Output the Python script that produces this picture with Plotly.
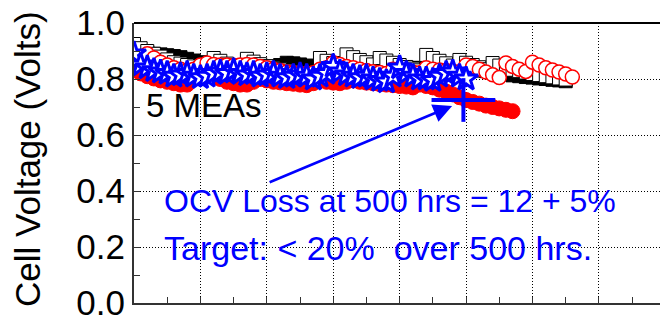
import plotly.graph_objects as go

# ---- durability data (hours vs. cell voltage) ----
hours_sq = list(range(0, 660, 10))
black_filled_sq = [0.91, 0.90, 0.895, 0.89, 0.888, 0.885, 0.882, 0.878, 0.872, 0.866,
                   0.86, 0.856, 0.852, 0.85, 0.848, 0.846, 0.844, 0.842, 0.84, 0.838,
                   0.836, 0.834, 0.85, 0.858, 0.856, 0.852, 0.848, 0.843, 0.84, 0.838,
                   0.836, 0.834, 0.832, 0.83, 0.828, 0.83, 0.835, 0.834, 0.832, 0.83,
                   0.828, 0.83, 0.84, 0.838, 0.836, 0.833, 0.83, 0.828, 0.826, 0.824,
                   0.822, 0.83, 0.832, 0.828, 0.824, 0.82, 0.816, 0.813, 0.81, 0.807,
                   0.805, 0.802, 0.80, 0.797, 0.795, 0.792]
open_sq = [0.925, 0.91, 0.90, 0.89, 0.88, 0.87, 0.86, 0.855, 0.85, 0.845,
           0.84, 0.835, 0.875, 0.865, 0.855, 0.848, 0.84, 0.872, 0.862, 0.853,
           0.846, 0.84, 0.835, 0.83, 0.826, 0.822, 0.818, 0.815, 0.875, 0.865,
           0.857, 0.85, 0.888, 0.878, 0.868, 0.86, 0.852, 0.875, 0.866, 0.858,
           0.85, 0.843, 0.837, 0.831, 0.886, 0.875, 0.865, 0.856, 0.848, 0.868,
           0.858, 0.85, 0.842, 0.835, 0.857, 0.848, 0.84, 0.833, 0.828, 0.823,
           0.818, 0.814, 0.81, 0.806, 0.802, 0.798]

hours_red = list(range(0, 580, 10))
red_filled = [0.835, 0.82, 0.81, 0.802, 0.795, 0.79, 0.785, 0.78, 0.78, 0.81,
              0.845, 0.835, 0.815, 0.80, 0.79, 0.785, 0.78, 0.78, 0.79, 0.80,
              0.795, 0.79, 0.788, 0.785, 0.783, 0.78, 0.778, 0.785, 0.795, 0.79,
              0.787, 0.785, 0.79, 0.795, 0.79, 0.787, 0.785, 0.782, 0.78, 0.778,
              0.775, 0.773, 0.77, 0.78, 0.775, 0.77, 0.762, 0.755, 0.745, 0.735,
              0.725, 0.718, 0.712, 0.705, 0.70, 0.695, 0.69, 0.685]

hours_open_red = list(range(0, 670, 10))
open_red = [0.87, 0.88, 0.89, 0.875, 0.86, 0.85, 0.84, 0.835, 0.83, 0.835,
            0.85, 0.857, 0.852, 0.85, 0.85, 0.848, 0.85, 0.852, 0.85, 0.845,
            0.84, 0.835, 0.83, 0.825, 0.822, 0.82, 0.82, 0.822, 0.835, 0.84,
            0.858, 0.852, 0.845, 0.84, 0.835, 0.83, 0.826, 0.823, 0.82, 0.835,
            0.83, 0.826, 0.824, 0.822, 0.84, 0.835, 0.832, 0.83, 0.828, 0.826,
            0.85, 0.845, 0.835, 0.825, 0.815, 0.805, 0.857, 0.845, 0.835, 0.827,
            0.86, 0.85, 0.84, 0.832, 0.825, 0.818, 0.807]

hours_star = list(range(0, 510, 10))
blue_star = [0.89, 0.85, 0.84, 0.83, 0.825, 0.82, 0.81, 0.815, 0.82, 0.81,
             0.805, 0.81, 0.82, 0.825, 0.82, 0.83, 0.82, 0.815, 0.82, 0.81,
             0.815, 0.82, 0.81, 0.805, 0.81, 0.815, 0.81, 0.80, 0.81, 0.82,
             0.845, 0.825, 0.815, 0.81, 0.805, 0.81, 0.80, 0.795, 0.79, 0.81,
             0.84, 0.82, 0.81, 0.80, 0.80, 0.795, 0.81, 0.82, 0.825, 0.81, 0.80]

# OCV loss marker at 500 hrs (centre and half-spans)
target_hours = [496]
target_volts = [0.725]
target_dx = [48]
target_dy = [0.078]

FONT = "Liberation Sans"
BLUE = "#0000ff"
RED = "#ff0000"

fig = go.Figure()

fig.add_trace(go.Scatter(
    x=hours_sq, y=black_filled_sq, mode="markers",
    marker=dict(symbol="square", size=13, color="black",
                line=dict(color="black", width=1))))
fig.add_trace(go.Scatter(
    x=hours_sq, y=open_sq, mode="markers",
    marker=dict(symbol="square", size=13, color="white",
                line=dict(color="black", width=1))))
fig.add_trace(go.Scatter(
    x=hours_red, y=red_filled, mode="markers",
    marker=dict(symbol="circle", size=15, color=RED,
                line=dict(color=RED, width=1))))
fig.add_trace(go.Scatter(
    x=hours_open_red, y=open_red, mode="markers",
    marker=dict(symbol="circle", size=14, color="white",
                line=dict(color=RED, width=1.5))))
fig.add_trace(go.Scatter(
    x=hours_star, y=blue_star, mode="lines+markers",
    line=dict(color=BLUE, width=2),
    marker=dict(symbol="star", size=18, color="white",
                line=dict(color=BLUE, width=3))))
fig.add_trace(go.Scatter(
    x=target_hours, y=target_volts, mode="markers",
    marker=dict(size=1, color=BLUE),
    error_x=dict(type="data", array=target_dx, color=BLUE, thickness=4, width=0),
    error_y=dict(type="data", array=target_dy, color=BLUE, thickness=4, width=0)))

grid = dict(showgrid=True, gridcolor="black", gridwidth=1, griddash="1px,2px")

fig.update_xaxes(
    range=[0, 792], tick0=0, dtick=100, **grid,
    showline=True, linecolor="#333333", linewidth=2,
    ticks="inside", ticklen=6, tickwidth=1, tickcolor="#333333",
    minor=dict(dtick=50, ticks="inside", ticklen=6, tickcolor="#333333", showgrid=False),
    showticklabels=False, zeroline=False)
fig.update_yaxes(
    range=[0, 1], tick0=0, dtick=0.2, tickformat=".1f", **grid,
    showline=True, linecolor="#333333", linewidth=2,
    ticks="inside", ticklen=6, tickwidth=1, tickcolor="#333333",
    minor=dict(dtick=0.1, ticks="inside", ticklen=6, tickcolor="#333333", showgrid=False),
    ticklabeloverflow="allow",
    tickfont=dict(family=FONT, size=35, color="black"), zeroline=False)

fig.add_shape(type="line", xref="paper", yref="paper", x0=0, x1=1, y0=1, y1=1,
              line=dict(color="black", width=2))

fig.add_annotation(text="Cell Voltage (Volts)", xref="paper", yref="paper",
                   x=(27 - 134) / 526, y=(303 - 159) / 280, textangle=-90,
                   showarrow=False, xanchor="center", yanchor="middle",
                   font=dict(family=FONT, size=35, color="black"))
fig.add_annotation(text="5 MEAs", x=15, y=0.707, xanchor="left", yanchor="middle",
                   showarrow=False, font=dict(family=FONT, size=33, color="black"))
fig.add_annotation(text="OCV Loss at 500 hrs = 12 + 5%", x=42, y=0.366,
                   xanchor="left", yanchor="middle", showarrow=False,
                   font=dict(family=FONT, size=32, color=BLUE))
fig.add_annotation(text="Target: < 20%\u00a0 over 500 hrs.", x=42, y=0.198,
                   xanchor="left", yanchor="middle", showarrow=False,
                   font=dict(family=FONT, size=34, color=BLUE))
fig.add_annotation(text="", x=479, y=0.704, ax=-184, ay=77, showarrow=True,
                   arrowhead=2, arrowsize=1.5, arrowwidth=2.5, arrowcolor=BLUE)

fig.update_layout(
    width=660, height=321, showlegend=False,
    margin=dict(l=134, r=0, t=23, b=18),
    paper_bgcolor="white", plot_bgcolor="white")

fig.write_html("out.html")
